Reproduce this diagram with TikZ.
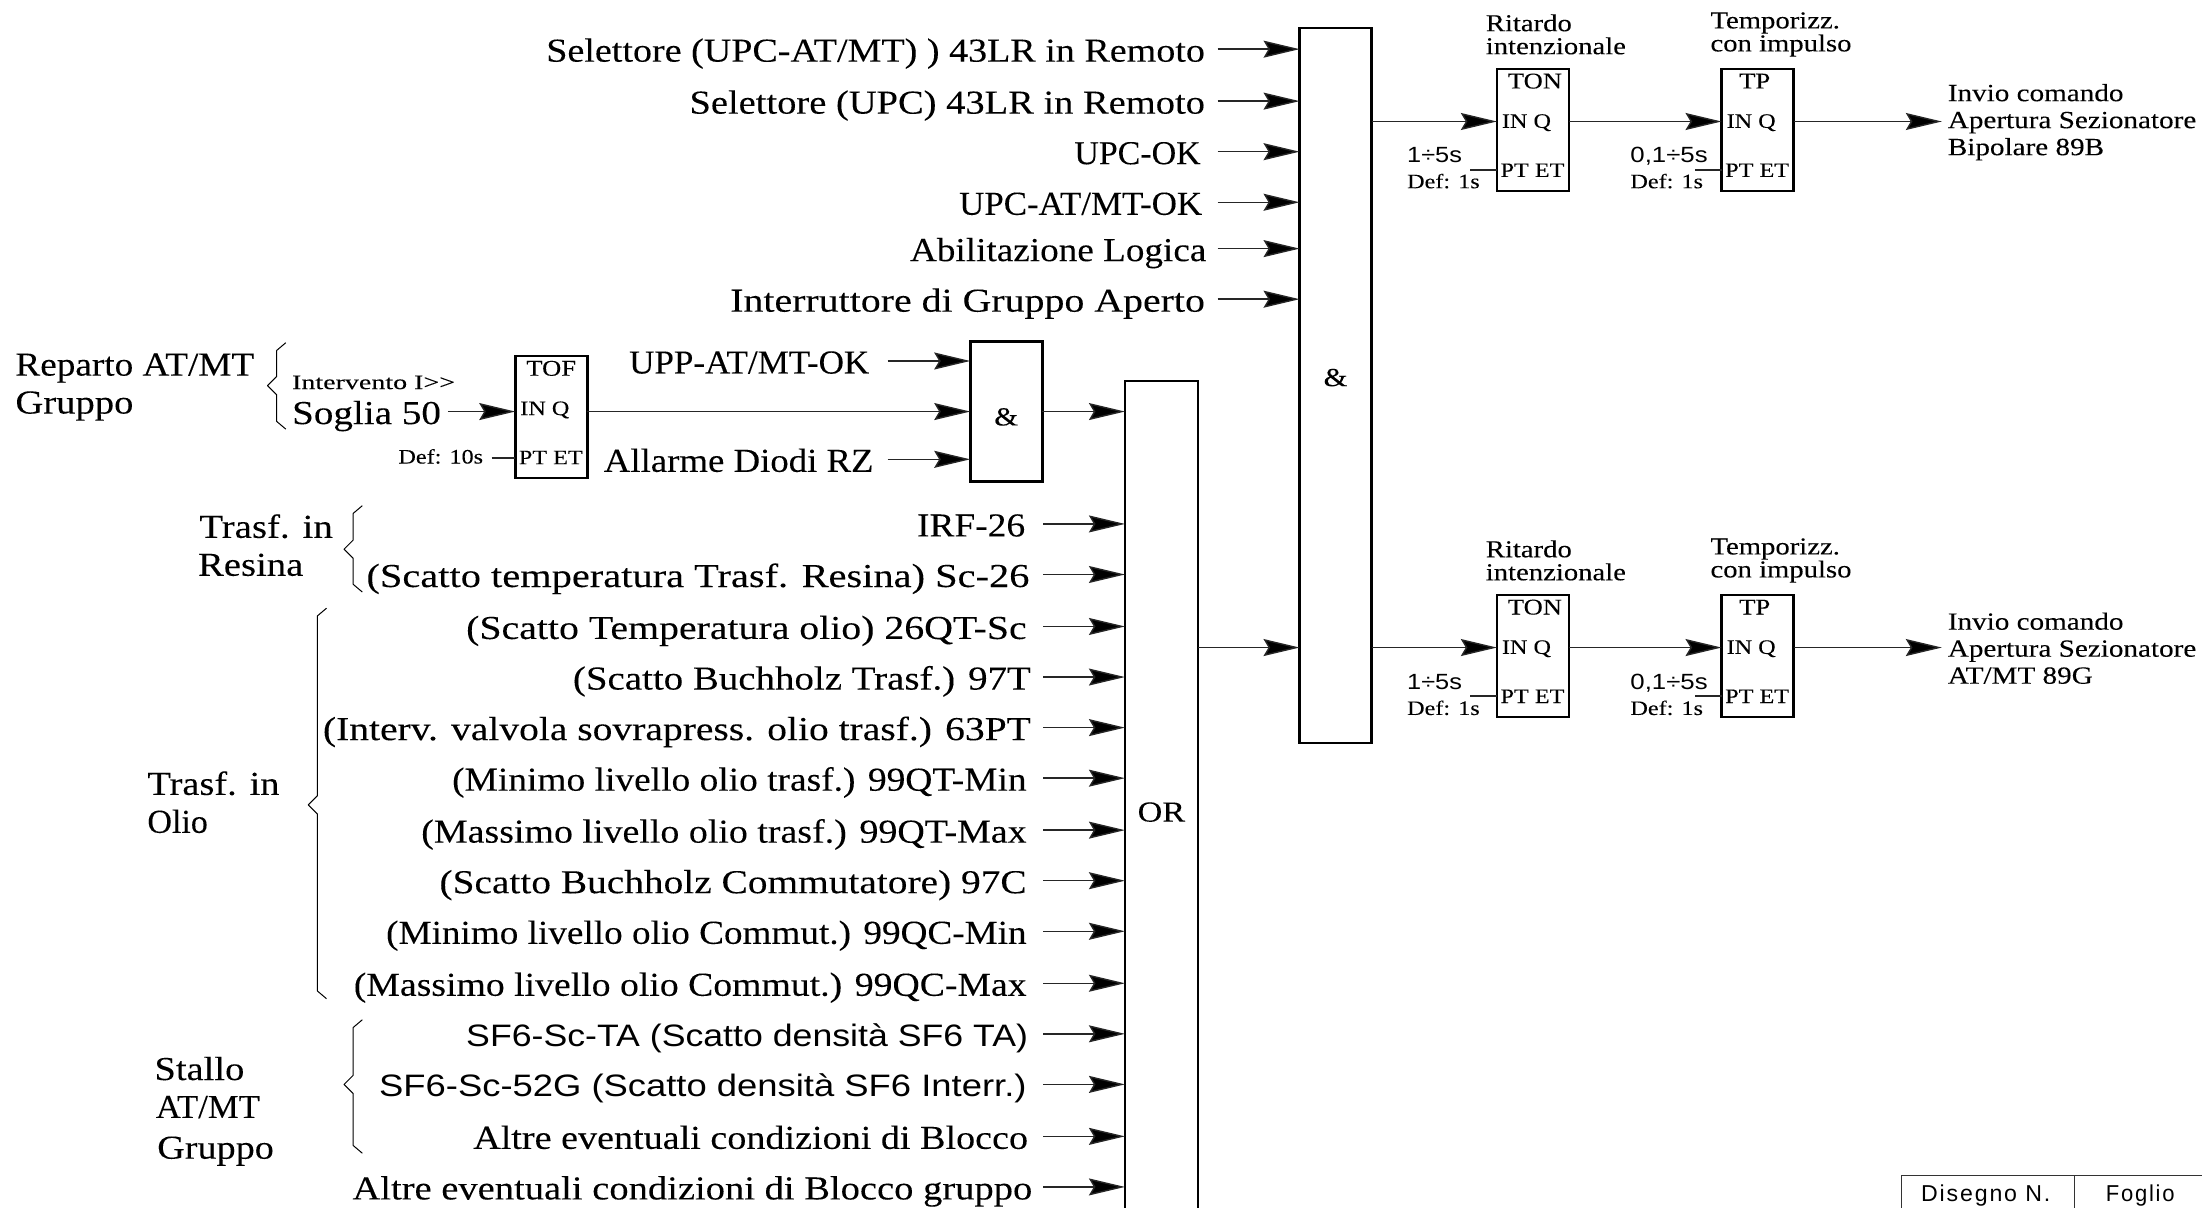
\documentclass[tikz,border=0pt]{standalone}
\usepackage{fontspec}
\setmainfont{Liberation Serif}[FakeStretch=1.18,FakeBold=0.12]
\newfontfamily\sansf{Liberation Sans}[FakeStretch=1.12]
\newfontfamily\cadf{Liberation Sans}[LetterSpace=8]
\usetikzlibrary{arrows.meta}
\newcommand{\bigf}{\fontsize{33.5}{32}\selectfont}
\newcommand{\bigs}{\sansf\fontsize{31}{30}\selectfont}
\newcommand{\gatef}{\fontsize{29}{29}\selectfont}
\newcommand{\ampf}{\fontsize{26}{26}\selectfont}
\newcommand{\midf}{\fontsize{24.7}{27}\selectfont}
\newcommand{\smlf}{\fontsize{20.5}{21}\selectfont}
\newcommand{\ttlf}{\fontsize{22.5}{22}\selectfont}
\newcommand{\smls}{\sansf\fontsize{22}{21}\selectfont}
\newcommand{\fit}[3]{\pgfmathsetlengthmacro\fitW{(#2-#1)*1.40434}\resizebox{\fitW}{\height}{#3}}
\tikzset{
  x=1.40434pt,y=-1.40465pt,
  flow/.style={line width=1.4pt,draw=black!85},
  arr/.style={flow,-{Stealth[length=36pt,width=17pt,inset=5pt,fill=black]}},
  lbox/.style={draw,line width=2.6pt,minimum width=72pt,inner sep=0pt,outer sep=0pt},
  ghost/.style={inner sep=0pt,outer sep=0pt},
  txt/.style={inner ysep=0pt,outer sep=0pt,inner xsep=0pt,text height=25pt,text depth=0pt,font=\bigf},
  small/.style={inner sep=0pt,outer sep=0pt,text height=14pt,text depth=0pt,font=\smlf},
  mlt/.style={inner sep=0pt,outer sep=0pt,align=left,font=\midf},
  curly/.style={line width=1pt,line join=round}
}
% #1 name, #2 y, #3 text left, #4 text right, #5 arrow start, #6 target, #7 font, #8 text
\newcommand{\inrow}[8]{%
  \node[txt,anchor=east,inner xsep={(#5-#4)*1.40434pt},font=#7] (#1) at (#5,#2) {\fit{#3}{#4}{#8}};
  \draw[arr] (#1.east) -- (#6.west |- #1.east);
}
% #1 name, #2 xc, #3 yc, #4 title, #5 title dx
\newcommand{\timerbox}[5]{%
  \node[lbox,minimum height=122pt] (#1) at (#2,#3) {};
  \coordinate (#1in) at (#1.west |- {0,#3-6});
  \coordinate (#1out) at (#1.east |- {0,#3-6});
  \coordinate (#1pt) at (#1.west |- {0,#3+28.5});
  \node[small,font=\ttlf] (#1t) at ({#2+#5},{#3-34.5}) {#4};
  \node[small,anchor=west] (#1i) at ({#2-22},{#3-6.5}) {IN Q};
  \node[small,anchor=west] (#1p) at ({#2-23},{#3+28.5}) {PT ET};
}
% #1 tip x, #2 top, #3 mid, #4 bottom
\newcommand{\curlyb}[4]{%
  \draw[curly] ({#1+13},#2) -- ({#1+6.5},{#2+5.5}) -- ({#1+6.5},{#3-6.5}) -- (#1,#3) -- ({#1+6.5},{#3+6.5}) -- ({#1+6.5},{#4-5.5}) -- ({#1+13},#4);
}
\begin{document}
\begin{tikzpicture}
\useasboundingbox (0,0) rectangle (1568,860);
% gates
\node[lbox,minimum height=715pt] (andb) at (951,274.5) {};
\node[txt,font=\ampf] (andl) at (951,266) {\&};
\node[lbox,minimum height=140pt] (ands) at (716.5,293) {};
\node[txt,font=\ampf] (andsl) at (716.5,294) {\&};
\node[ghost,minimum width=73pt,minimum height=827pt] (orb) at (827,565.5) {};
\draw[line width=2.6pt] (orb.south west) -- (orb.north west) -- (orb.north east) -- (orb.south east);
\node[txt,font=\gatef] (orl) at (827,576) {OR};
% inputs of the big AND
\inrow{a1}{35}{389}{858}{867}{andb}{\bigf}{Selettore (UPC-AT/MT) ) 43LR in Remoto}
\inrow{a2}{72}{491}{858}{867}{andb}{\bigf}{Selettore (UPC) 43LR in Remoto}
\inrow{a3}{108}{765}{855}{867}{andb}{\bigf}{UPC-OK}
\inrow{a4}{144}{683}{856}{867}{andb}{\bigf}{UPC-AT/MT-OK}
\inrow{a5}{177}{648}{859}{867}{andb}{\bigf}{Abilitazione Logica}
\inrow{a6}{213}{520}{858}{867}{andb}{\bigf}{Interruttore di Gruppo Aperto}
% inputs of the small AND
\inrow{s1}{257}{448}{619}{632}{ands}{\bigf}{UPP-AT/MT-OK}
\inrow{s3}{327}{430}{622}{632}{ands}{\bigf}{Allarme Diodi RZ}
% inputs of the OR
\inrow{o1}{373}{653}{730}{743}{orb}{\bigf}{IRF-26}
\inrow{o2}{409}{261}{733}{743}{orb}{\bigf}{(Scatto temperatura Trasf. Resina) Sc-26}
\inrow{o3}{446}{332}{731}{743}{orb}{\bigf}{(Scatto Temperatura olio) 26QT-Sc}
\inrow{o4}{482}{408}{734}{743}{orb}{\bigf}{(Scatto Buchholz Trasf.) 97T}
\inrow{o5}{518}{230}{734}{743}{orb}{\bigf}{(Interv. valvola sovrapress. olio trasf.) 63PT}
\inrow{o6}{554}{322}{731}{743}{orb}{\bigf}{(Minimo livello olio trasf.) 99QT-Min}
\inrow{o7}{591}{300}{731}{743}{orb}{\bigf}{(Massimo livello olio trasf.) 99QT-Max}
\inrow{o8}{627}{313}{731}{743}{orb}{\bigf}{(Scatto Buchholz Commutatore) 97C}
\inrow{o9}{663}{275}{731}{743}{orb}{\bigf}{(Minimo livello olio Commut.) 99QC-Min}
\inrow{o10}{700}{252}{731}{743}{orb}{\bigf}{(Massimo livello olio Commut.) 99QC-Max}
\inrow{o11}{736}{332}{732}{743}{orb}{\bigs}{SF6-Sc-TA (Scatto densità SF6 TA)}
\inrow{o12}{772}{270}{731}{743}{orb}{\bigs}{SF6-Sc-52G (Scatto densità SF6 Interr.)}
\inrow{o13}{809}{337}{732}{743}{orb}{\bigf}{Altre eventuali condizioni di Blocco}
\inrow{o14}{845}{251}{735}{743}{orb}{\bigf}{Altre eventuali condizioni di Blocco gruppo}
% TOF
\timerbox{tof}{392.5}{297}{TOF}{0}
\coordinate (tofin) at (tof.west |- {0,293});
\coordinate (tofout) at (tof.east |- {0,293});
\node[txt,anchor=west] (sog) at (208,293) {\fit{208}{314}{Soglia 50}};
\coordinate (sogr) at (319,293);
\draw[arr] (sogr) -- (tofin);
\node[small,anchor=west] (interv) at (208,272) {\fit{208}{324}{Intervento I>{}>}};
\node[small,anchor=east] (def10) at (344,325) {Def: 10s};
\coordinate (def10r) at (350,326);
\draw[flow] (def10r) -- (tof.west |- def10r);
\draw[arr] (tofout) -- (ands.west |- tofout);
\draw[arr] (ands.east) -- (orb.west |- ands.east);
% timers
\timerbox{ton1}{1091.5}{92.5}{TON}{1.5}
\timerbox{tp1}{1251.5}{92.5}{TP}{-2}
\timerbox{ton2}{1091.5}{467}{TON}{1.5}
\timerbox{tp2}{1251.5}{467}{TP}{-2}
\draw[arr] (andb.east |- ton1in) -- (ton1in);
\draw[arr] (ton1out) -- (tp1in);
\draw[arr] (andb.east |- ton2in) -- (ton2in);
\draw[arr] (ton2out) -- (tp2in);
\draw[arr] (orb.east |- ton2in) -- (andb.west |- ton2in);
% outputs
\node[mlt,anchor=west] (out1) at (1387,87) {Invio comando\\Apertura Sezionatore\\Bipolare 89B};
\node[mlt,anchor=west] (out2) at (1387,461.5) {Invio comando\\Apertura Sezionatore\\AT/MT 89G};
\draw[arr] (tp1out) -- ([xshift=-6pt]out1.west |- tp1out);
\draw[arr] (tp2out) -- ([xshift=-6pt]out2.west |- tp2out);
% timer captions
\node[mlt,anchor=west,font=\fontsize{24.3}{23}\selectfont] (c1) at (1058,24.5) {Ritardo\\intenzionale};
\node[mlt,anchor=west,font=\fontsize{24.3}{23}\selectfont] (c2) at (1218,24.5) {Temporizz.\\con impulso};
\node[mlt,anchor=west,font=\fontsize{24.3}{23}\selectfont] (c3) at (1058,399) {Ritardo\\intenzionale};
\node[mlt,anchor=west,font=\fontsize{24.3}{23}\selectfont] (c4) at (1218,399) {Temporizz.\\con impulso};
% timer settings
\node[small,anchor=west,font=\smls] (k1) at (1002,111) {\fit{1002}{1041}{1÷5s}};
\node[small,anchor=west] (d1) at (1002,129) {Def: 1s};
\coordinate (k1r) at (1047,121);
\draw[flow] (k1r) -- (ton1pt);
\node[small,anchor=west,font=\smls] (k2) at (1161,111) {\fit{1161}{1216}{0,1÷5s}};
\node[small,anchor=west] (d2) at (1161,129) {Def: 1s};
\coordinate (k2r) at (1207,121);
\draw[flow] (k2r) -- (tp1pt);
\node[small,anchor=west,font=\smls] (k3) at (1002,486) {\fit{1002}{1041}{1÷5s}};
\node[small,anchor=west] (d3) at (1002,504) {Def: 1s};
\coordinate (k3r) at (1047,495.5);
\draw[flow] (k3r) -- (ton2pt);
\node[small,anchor=west,font=\smls] (k4) at (1161,486) {\fit{1161}{1216}{0,1÷5s}};
\node[small,anchor=west] (d4) at (1161,504) {Def: 1s};
\coordinate (k4r) at (1207,495.5);
\draw[flow] (k4r) -- (tp2pt);
% group labels
\node[txt,anchor=west] (g1a) at (11,258.5) {\fit{11}{181}{Reparto AT/MT}};
\node[txt,anchor=west] (g1b) at (11,285.5) {\fit{11}{95}{Gruppo}};
\node[txt,anchor=west] (g2a) at (142,374) {\fit{142}{237}{Trasf. in}};
\node[txt,anchor=west] (g2b) at (141,401) {\fit{141}{216}{Resina}};
\node[txt,anchor=west] (g3a) at (105,557) {\fit{105}{199}{Trasf. in}};
\node[txt,anchor=west] (g3b) at (105,584) {\fit{105}{148}{Olio}};
\node[txt,anchor=west] (g4a) at (110,760) {\fit{110}{174}{Stallo}};
\node[txt,anchor=west] (g4b) at (111,787) {\fit{111}{185}{AT/MT}};
\node[txt,anchor=west] (g4c) at (112,816) {\fit{112}{195}{Gruppo}};
% braces
\curlyb{190.5}{244}{274.5}{305.5}
\curlyb{245}{360}{391}{421.5}
\curlyb{219.5}{433}{573}{711}
\curlyb{245}{726}{772}{821}
% title block
\draw[line width=1.2pt,draw=black!80] (1354,860) -- (1354,837) -- (1568,837);
\draw[line width=1.2pt,draw=black!80] (1477,837) -- (1477,860);
\node[ghost,font=\cadf\fontsize{23}{23}\selectfont] (dis) at (1414,851) {\fit{1368}{1460}{Disegno N.}};
\node[ghost,font=\cadf\fontsize{23}{23}\selectfont] (fog) at (1524,851) {\fit{1499}{1548}{Foglio}};
\end{tikzpicture}
\end{document}
